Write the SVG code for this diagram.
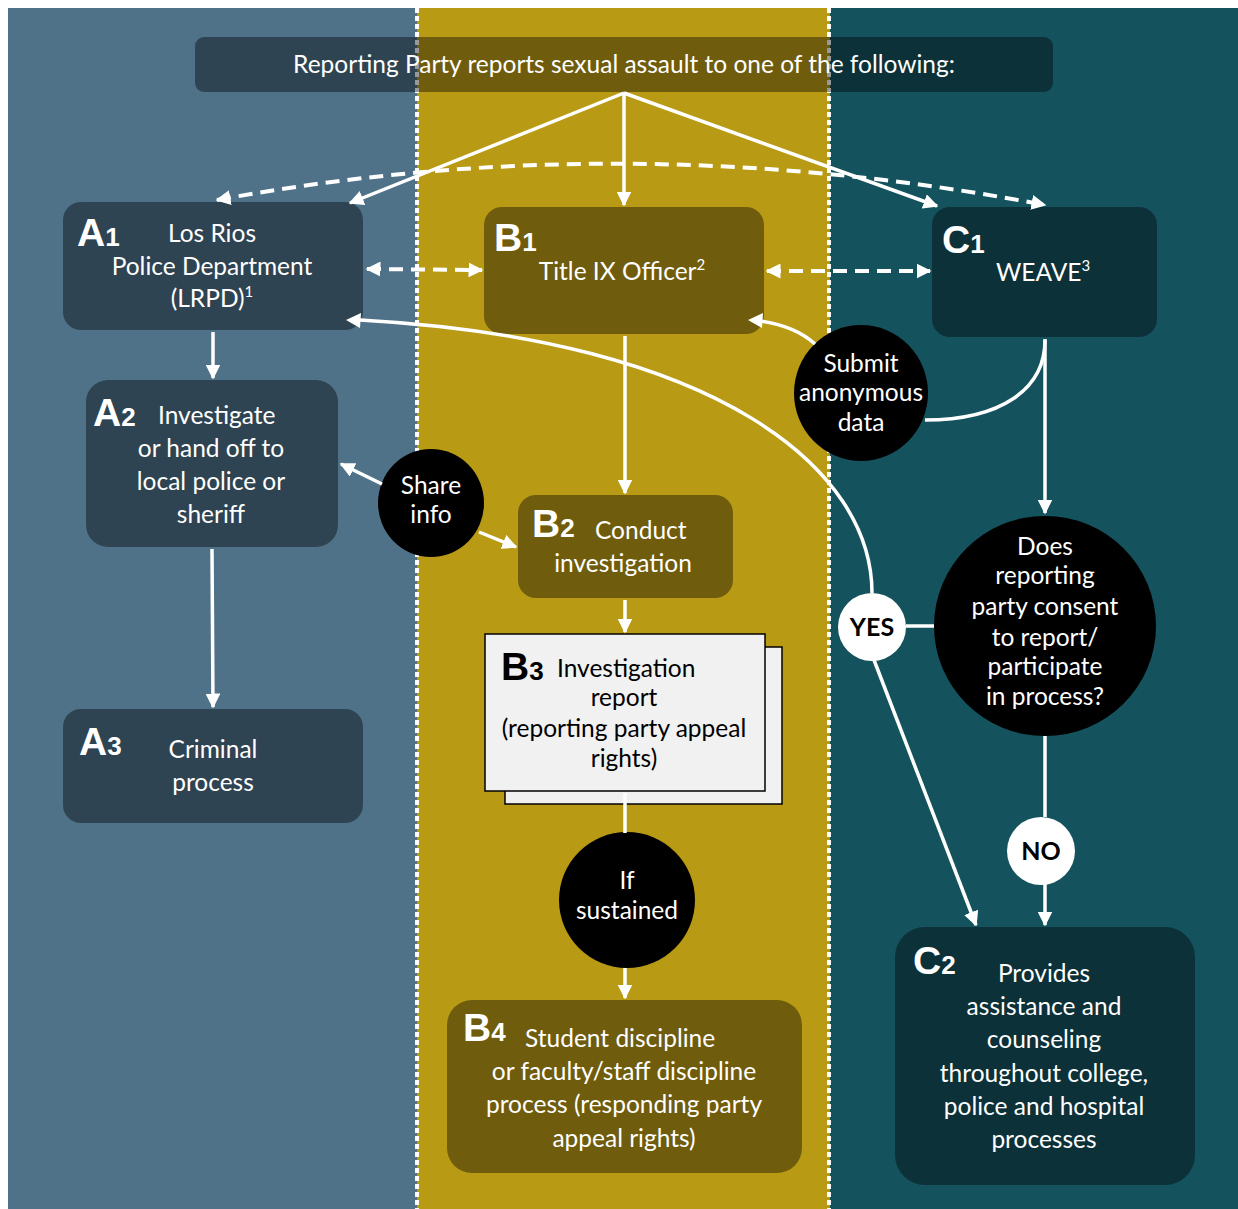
<svg xmlns="http://www.w3.org/2000/svg" width="1238" height="1209" viewBox="0 0 1238 1209">
<defs>
<style>
.box{fill:#000;fill-opacity:0.4}
.t{font-family:Lato,"Open Sans",sans-serif;font-size:24.5px;fill:#fff;text-anchor:middle}
.tl{font-family:Lato,"Open Sans",sans-serif;font-size:24.5px;fill:#fff}
.big{font-family:"Liberation Sans",Arial,sans-serif;font-weight:bold;font-size:39px;fill:#fff}
.dig{font-size:26px}
.ln{stroke:#fff;stroke-width:3.5;fill:none}
.dash{stroke:#fff;stroke-width:4;fill:none;stroke-dasharray:14 8}
.div{stroke:#fff;stroke-width:4;stroke-dasharray:5 3}
.head{fill:#fff}
</style>
<marker id="ah" viewBox="0 0 10 10" refX="9" refY="5" markerWidth="15" markerHeight="15" markerUnits="userSpaceOnUse" orient="auto-start-reverse">
<path d="M0,0 L10,5 L0,10 Z" fill="#fff"/>
</marker>
</defs>
<rect width="1238" height="1209" fill="#fff"/>
<rect x="8" y="8" width="409" height="1201" fill="#4f7289"/>
<rect x="417" y="8" width="413" height="1201" fill="#b99a14"/>
<rect x="830" y="8" width="408" height="1201" fill="#14525e"/>
<line class="div" x1="417" y1="8" x2="417" y2="1209"/>
<line class="div" x1="829" y1="8" x2="829" y2="1209"/>

<g id="header">
<rect class="box" x="195" y="37" width="858" height="55" rx="9"/>
<text class="t" x="624" y="73">Reporting Party reports sexual assault to one of the following:</text>
</g>

<g id="A1">
<rect class="box" x="63" y="202" width="300" height="128" rx="18"/>
<text class="big" x="77" y="246">A<tspan class="dig">1</tspan></text>
<text class="t" x="212" y="242">Los Rios</text>
<text class="t" x="212" y="275">Police Department</text>
<text class="t" x="212" y="307">(LRPD)<tspan font-size="15" dy="-10">1</tspan></text>
</g>

<g id="B1">
<rect class="box" x="484" y="207" width="280" height="127" rx="18"/>
<text class="big" x="494" y="251">B<tspan class="dig">1</tspan></text>
<text class="t" x="622" y="280">Title IX Officer<tspan font-size="15" dy="-10">2</tspan></text>
</g>

<g id="C1">
<rect class="box" x="932" y="207" width="225" height="130" rx="18"/>
<text class="big" x="942" y="253">C<tspan class="dig">1</tspan></text>
<text class="t" x="1043" y="281">WEAVE<tspan font-size="15" dy="-10">3</tspan></text>
</g>

<g id="A2">
<rect class="box" x="86" y="380" width="252" height="167" rx="22"/>
<text class="big" x="93" y="426">A<tspan class="dig">2</tspan></text>
<text class="tl" x="158" y="424">Investigate</text>
<text class="t" x="211" y="457">or hand off to</text>
<text class="t" x="211" y="490">local police or</text>
<text class="t" x="211" y="523">sheriff</text>
</g>

<g id="A3">
<rect class="box" x="63" y="709" width="300" height="114" rx="18"/>
<text class="big" x="79" y="755">A<tspan class="dig">3</tspan></text>
<text class="t" x="213" y="758">Criminal</text>
<text class="t" x="213" y="791">process</text>
</g>

<g id="B2">
<rect class="box" x="518" y="495" width="215" height="103" rx="18"/>
<text class="big" x="532" y="537">B<tspan class="dig">2</tspan></text>
<text class="tl" x="595" y="539">Conduct</text>
<text class="t" x="623" y="572">investigation</text>
</g>

<g id="B3">
<rect x="505" y="647" width="277" height="157" fill="#f1f1f1" stroke="#000" stroke-width="1.5"/>
<rect x="485" y="634" width="280" height="157" fill="#f1f1f1" stroke="#000" stroke-width="1.5"/>
<text class="big" x="501" y="680" style="fill:#000">B<tspan class="dig">3</tspan></text>
<text class="tl" x="557" y="677" style="fill:#000">Investigation</text>
<text class="t" x="624" y="706" style="fill:#000">report</text>
<text class="t" x="624" y="737" style="fill:#000">(reporting party appeal</text>
<text class="t" x="624" y="767" style="fill:#000">rights)</text>
</g>

<g id="share-info">
<ellipse cx="431" cy="503" rx="53" ry="54" fill="#000"/>
<text class="t" x="431" y="494">Share</text>
<text class="t" x="431" y="523">info</text>
</g>

<g id="submit-data">
<ellipse cx="861" cy="393" rx="67" ry="68" fill="#000"/>
<text class="t" x="861" y="372">Submit</text>
<text class="t" x="861" y="401">anonymous</text>
<text class="t" x="861" y="431">data</text>
</g>

<g id="if-sustained">
<ellipse cx="627" cy="900" rx="68" ry="68" fill="#000"/>
<text class="t" x="627" y="889">If</text>
<text class="t" x="627" y="919">sustained</text>
</g>

<g id="B4">
<rect class="box" x="447" y="1000" width="355" height="173" rx="25"/>
<text class="big" x="463" y="1041">B<tspan class="dig">4</tspan></text>
<text class="tl" x="525" y="1047">Student discipline</text>
<text class="t" x="624" y="1080">or faculty/staff discipline</text>
<text class="t" x="624" y="1113">process (responding party</text>
<text class="t" x="624" y="1147">appeal rights)</text>
</g>

<g id="decision">
<ellipse cx="1045" cy="626" rx="111" ry="110" fill="#000"/>
<text class="t" x="1045" y="555">Does</text>
<text class="t" x="1045" y="584">reporting</text>
<text class="t" x="1045" y="615">party consent</text>
<text class="t" x="1045" y="646">to report/</text>
<text class="t" x="1045" y="675">participate</text>
<text class="t" x="1045" y="705">in process?</text>
</g>

<g id="yes">
<circle cx="872" cy="627" r="34" fill="#fff"/>
<text class="t" x="872" y="636" style="fill:#000;font-weight:bold;font-size:25px">YES</text>
</g>

<g id="no">
<ellipse cx="1041" cy="851" rx="34" ry="34" fill="#fff"/>
<text class="t" x="1041" y="860" style="fill:#000;font-weight:bold;font-size:25px">NO</text>
</g>

<g id="C2">
<rect class="box" x="895" y="927" width="300" height="258" rx="30"/>
<text class="big" x="913" y="974">C<tspan class="dig">2</tspan></text>
<text class="t" x="1044" y="982">Provides</text>
<text class="t" x="1044" y="1015">assistance and</text>
<text class="t" x="1044" y="1048">counseling</text>
<text class="t" x="1044" y="1082">throughout college,</text>
<text class="t" x="1044" y="1115">police and hospital</text>
<text class="t" x="1044" y="1148">processes</text>
</g>

<g id="connectors">
<line class="ln" x1="624" y1="93" x2="350" y2="203" marker-end="url(#ah)"/>
<line class="ln" x1="624" y1="93" x2="624" y2="205" marker-end="url(#ah)"/>
<line class="ln" x1="624" y1="93" x2="937" y2="206" marker-end="url(#ah)"/>
<path class="dash" d="M217,200 Q624,125 1045,205" marker-start="url(#ah)" marker-end="url(#ah)"/>
<line class="dash" x1="367" y1="269" x2="482" y2="270" marker-start="url(#ah)" marker-end="url(#ah)"/>
<line class="dash" x1="767" y1="271" x2="930" y2="271" marker-start="url(#ah)" marker-end="url(#ah)"/>
<line class="ln" x1="213" y1="332" x2="213" y2="378" marker-end="url(#ah)"/>
<line class="ln" x1="212" y1="549" x2="213" y2="707" marker-end="url(#ah)"/>
<line class="ln" x1="382" y1="484" x2="341" y2="464" marker-end="url(#ah)"/>
<line class="ln" x1="479" y1="532" x2="516" y2="547" marker-end="url(#ah)"/>
<line class="ln" x1="625" y1="336" x2="625" y2="493" marker-end="url(#ah)"/>
<line class="ln" x1="625" y1="600" x2="625" y2="632" marker-end="url(#ah)"/>
<line class="ln" x1="625" y1="793" x2="625" y2="833"/>
<line class="ln" x1="625" y1="968" x2="625" y2="998" marker-end="url(#ah)"/>
<line class="ln" x1="1045" y1="339" x2="1045" y2="513" marker-end="url(#ah)"/>
<path class="ln" d="M1045,340 C1045,390 1000,420 925,420"/>
<path class="ln" d="M815,344 Q795,326 760,321"/>
<polygon class="head" points="748,320 763,313 762,328"/>
<path class="ln" d="M872,593 C872,470 720,340 360,320"/>
<polygon class="head" points="346,320 361,313 360,328"/>
<line class="ln" x1="906" y1="626" x2="934" y2="626"/>
<line class="ln" x1="874" y1="660" x2="976" y2="925" marker-end="url(#ah)"/>
<line class="ln" x1="1045" y1="736" x2="1045" y2="817"/>
<line class="ln" x1="1045" y1="884" x2="1045" y2="925" marker-end="url(#ah)"/>
</g>
</svg>
